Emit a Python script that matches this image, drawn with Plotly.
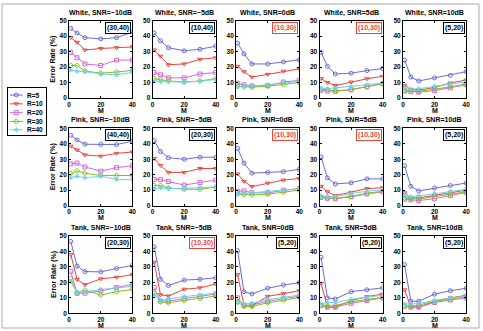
import plotly.graph_objects as go

M = [1, 5, 10, 20, 30, 40]
R_labels = ["R=5", "R=10", "R=20", "R=30", "R=40"]
colors = ["#6b6bd6", "#e8453c", "#d36bd3", "#7fc31c", "#70d0e8"]
symbols = ["circle-open", "triangle-down-open", "square-open", "diamond-open", "asterisk-open"]

noises = ["White", "Pink", "Tank"]
snrs = ["\u221210dB", "\u22125dB", "0dB", "5dB", "10dB"]

# data[noise][snr] -> list of 5 series (R=5,10,20,30,40)
white_m10 = [[45, 42, 39, 38.2, 39, 42.5], [39, 36, 31, 32, 32.5, 33], [29.5, 26, 22, 21, 24.5, 24.5], [21, 21, 17.5, 16, 16.8, 17.8], [18, 17.3, 17, 15.5, 15, 16.5]]
white_m5 = [[42, 37, 32.5, 30.5, 31.5, 33.5], [31, 27, 21.5, 22, 25, 26], [16.5, 15, 13, 13, 15.5, 16.5], [12.5, 12, 11, 10.3, 11, 12.5], [11, 10.5, 10.5, 10.2, 10.8, 12]]
white_0 = [[35.5, 28.5, 22, 22, 23.3, 24.7], [20.5, 17, 13.5, 15.3, 17.3, 18.8], [9.5, 8.5, 7.8, 8, 10.3, 11.4], [7.5, 7.2, 7, 7.6, 8.7, 10], [7.5, 7.5, 7.7, 8.5, 9.7, 10.8]]
white_5 = [[29.5, 20.5, 15.5, 16, 17.7, 19], [12.5, 10, 8, 10.3, 12.4, 14], [5, 4.5, 4.3, 5.3, 7.2, 9.3], [5.7, 5.2, 4.5, 5.5, 7.3, 9.2], [6, 6, 6.5, 7.4, 8.6, 9.7]]
white_10 = [[24.5, 13.5, 11, 13, 14.6, 17], [8.2, 5.5, 5, 6.8, 9.7, 11.6], [4.5, 4, 3.8, 4.8, 6.5, 8.5], [5, 4.6, 4.3, 5.6, 7.5, 9], [6, 5.7, 6, 7.6, 9, 10.3]]

pink_m10 = [[45.5, 42.5, 39.7, 39.6, 39.5, 41.7], [38.5, 36, 32.8, 32, 33.8, 34.7], [27, 27.5, 25, 22.3, 24.6, 25.8], [20.8, 22.5, 21, 19.5, 19.5, 19.5], [18, 19, 18, 19, 17, 16.8]]
pink_m5 = [[42, 35, 31, 30, 31.3, 31.3], [30.5, 26, 21.5, 21.5, 24, 24], [17, 16.8, 15.6, 13.3, 15, 16.5], [13, 13, 11.5, 10.6, 10.6, 12], [11, 11.5, 11, 11.2, 11.5, 12.3]]
pink_0 = [[37, 27.5, 21, 21.5, 22, 23.5], [20.5, 15.8, 12.3, 14.6, 16.5, 17.5], [9.3, 9.5, 8.4, 8.2, 9.9, 11], [7.5, 7.2, 7, 7.4, 8.7, 10], [7.8, 7.8, 8.2, 9.3, 10, 10.8]]
pink_5 = [[31.5, 18, 14, 14.8, 17.3, 17.3], [12.5, 9, 6.5, 8.6, 11, 11.6], [5.3, 4.8, 4.4, 5.7, 7.6, 8.9], [5.7, 5, 4.8, 6, 8, 9.3], [6, 6, 6, 7.8, 9.3, 10.3]]
pink_10 = [[25.8, 12.5, 9.5, 11.4, 13, 14.6], [8.3, 4.9, 5, 6.8, 8.6, 10], [4.2, 3.8, 3.3, 4.5, 6.5, 8.5], [5, 4.5, 4.3, 5.8, 7.5, 9], [6, 5.7, 6.3, 7.8, 9.3, 10.5]]

tank_m10 = [[46.5, 30.5, 27, 26.8, 29, 31], [38, 22, 18.5, 22.3, 23.3, 25], [27.2, 13, 13, 14.5, 16.7, 18.8], [22.6, 13.2, 15, 11.8, 14, 15.4], [20.5, 13.5, 14, 15.4, 16.5, 17.3]]
tank_m5 = [[43, 22, 18, 21.5, 22, 23], [33, 12, 11.2, 15.6, 16.5, 19], [16.7, 8, 7.9, 9.4, 10.8, 12.5], [13, 7.5, 6.9, 8.3, 9.6, 11.2], [12, 8.3, 9.4, 10.8, 12, 13]]
tank_0 = [[40.5, 14, 12.5, 16.2, 18.3, 19.8], [25, 5.3, 4.9, 11, 12.7, 14.6], [10, 4.9, 5.3, 7.8, 9.5, 11], [7.2, 4.6, 4.4, 6.8, 8.4, 10.3], [6.8, 6.1, 6.5, 8.9, 10.3, 11.8]]
tank_5 = [[36.3, 10, 9.3, 14, 15.2, 16.5], [19.4, 4, 4, 8.2, 10.8, 12.4], [5, 4, 4, 6.5, 8.2, 10], [5.3, 4.6, 5, 7.4, 9, 10.3], [6, 7, 7, 9, 10.5, 11.6]]
tank_10 = [[31.5, 7.8, 7.8, 12.4, 14.6, 16.2], [15.2, 4, 4, 7.8, 10, 11.6], [4.6, 4, 4, 7, 8.6, 10], [4.6, 4.6, 5.3, 7.8, 9, 10.8], [6, 6, 6.3, 8.4, 10, 11.2]]

data = [
    [white_m10, white_m5, white_0, white_5, white_10],
    [pink_m10, pink_m5, pink_0, pink_5, pink_10],
    [tank_m10, tank_m5, tank_0, tank_5, tank_10],
]

corner_labels = [
    ["(30,40)", "(10,40)", "(10,30)", "(10,30)", "(5,20)"],
    ["(40,40)", "(20,30)", "(10,30)", "(10,30)", "(5,20)"],
    ["(20,30)", "(10,30)", "(5,20)", "(5,20)", "(5,20)"],
]
corner_red = [
    [False, False, True, True, False],
    [False, False, True, True, False],
    [False, True, False, False, False],
]

W, H = 483, 331
FONT = "Liberation Sans"
fig = go.Figure()
layout = dict(width=W, height=H, margin=dict(l=0, r=0, t=0, b=0), showlegend=False,
              paper_bgcolor="white", plot_bgcolor="white", annotations=[], shapes=[])

for r in range(3):
    for c in range(5):
        i = r * 5 + c + 1
        xa = "xaxis" if i == 1 else f"xaxis{i}"
        ya = "yaxis" if i == 1 else f"yaxis{i}"
        xr = "x" if i == 1 else f"x{i}"
        yr = "y" if i == 1 else f"y{i}"
        left = 68 + 84.5 * c
        right = left + 64
        top = 17 + 110 * r
        bot = 96 + 110 * r
        xd = [left / W, right / W]
        yd = [1 - bot / H, 1 - top / H]
        axis_common = dict(showgrid=False, zeroline=False, showline=True, linecolor="black",
                           linewidth=1, mirror="allticks", ticks="inside", ticklen=2,
                           tickcolor="black",
                           tickfont=dict(family=FONT, size=6.5, color="black", weight="bold"))
        layout[xa] = dict(domain=xd, anchor=yr, range=[0, 40], tickvals=[0, 20, 40], **axis_common)
        layout[ya] = dict(domain=yd, anchor=xr, range=[0, 50], tickvals=[0, 10, 20, 30, 40, 50],
                          **axis_common)
        for k in range(5):
            fig.add_trace(go.Scatter(
                x=M, y=data[r][c][k], mode="lines+markers", name=R_labels[k],
                line=dict(color=colors[k], width=1),
                marker=dict(symbol=symbols[k], size=4, color=colors[k], line=dict(width=1, color=colors[k])),
                xaxis=xr, yaxis=yr,
            ))
        layout["annotations"].append(dict(
            text=f"{noises[r]}, SNR={snrs[c]}", x=(left + right) / 2 / W, y=1 - (top - 2) / H,
            xref="paper", yref="paper", xanchor="center", yanchor="bottom", showarrow=False,
            font=dict(family=FONT, size=7, color="black", weight="bold")))
        layout["annotations"].append(dict(
            text="M", x=(left + right) / 2 / W, y=1 - (bot + 12.5) / H,
            xref="paper", yref="paper", xanchor="center", yanchor="middle", showarrow=False,
            font=dict(family=FONT, size=7, color="black", weight="bold")))
        red = corner_red[r][c]
        col = "#e8453c" if red else "black"
        layout["annotations"].append(dict(
            text=corner_labels[r][c], x=(right - 1) / W, y=1 - (top + 1) / H,
            xref="paper", yref="paper", xanchor="right", yanchor="top", showarrow=False,
            bgcolor="white", bordercolor=col, borderwidth=1, borderpad=1,
            font=dict(family=FONT, size=7, color=col, weight="bold")))
        if c == 0:
            layout["annotations"].append(dict(
                text="Error Rate (%)", x=52 / W, y=1 - ((top + bot) / 2) / H,
                xref="paper", yref="paper", xanchor="center", yanchor="middle", showarrow=False,
                textangle=-90, font=dict(family=FONT, size=7, color="black", weight="bold")))

# compact legend drawn in its own small axes (px-like units inside the box)
LX0, LX1, LY0, LY1 = 6, 45, 86, 134
layout["xaxis16"] = dict(domain=[LX0 / W, LX1 / W], anchor="y16", range=[0, LX1 - LX0],
                         showgrid=False, zeroline=False, showticklabels=False, ticks="",
                         showline=True, mirror=True, linecolor="black", linewidth=1, fixedrange=True)
layout["yaxis16"] = dict(domain=[1 - LY1 / H, 1 - LY0 / H], anchor="x16", range=[LY1 - LY0, 0],
                         showgrid=False, zeroline=False, showticklabels=False, ticks="",
                         showline=True, mirror=True, linecolor="black", linewidth=1, fixedrange=True)
legend_rows = [7, 16, 25, 34, 42.5]
for k in range(5):
    fig.add_trace(go.Scatter(
        x=[2, 8.5, 15], y=[legend_rows[k]] * 3, mode="lines+markers",
        line=dict(color=colors[k], width=1),
        marker=dict(symbol=symbols[k], size=4, color=colors[k], line=dict(width=1, color=colors[k]),
                    opacity=[0, 1, 0]),
        xaxis="x16", yaxis="y16", hoverinfo="skip"))
    layout["annotations"].append(dict(
        text=R_labels[k], x=17, y=legend_rows[k], xref="x16", yref="y16",
        xanchor="left", yanchor="middle", showarrow=False,
        font=dict(family=FONT, size=6.5, color="black", weight="bold")))

layout["shapes"].append(dict(type="rect", xref="paper", yref="paper", x0=0, y0=0, x1=1, y1=1,
                             line=dict(color="#aaaaaa", width=1)))
fig.update_layout(**layout)
fig.write_html("out.html")
